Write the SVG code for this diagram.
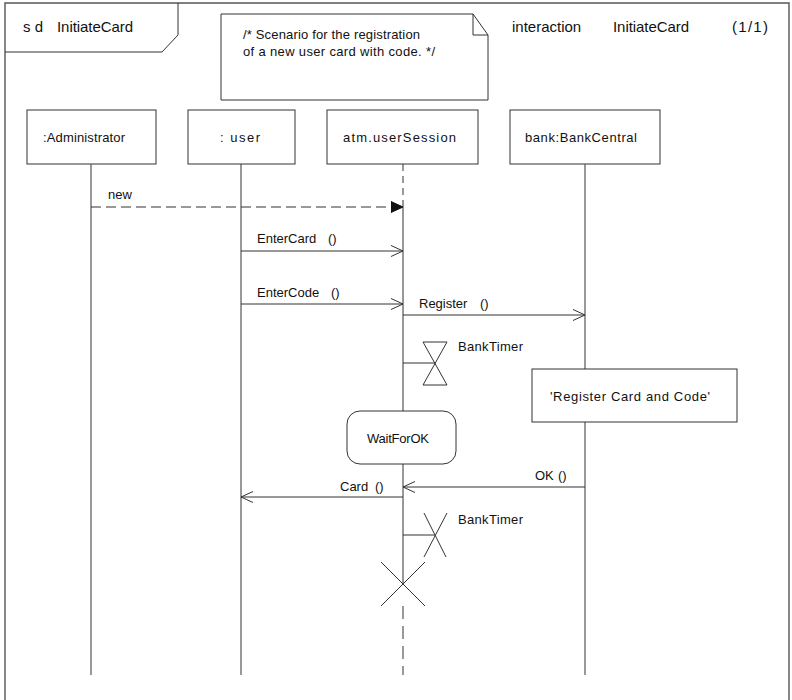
<svg xmlns="http://www.w3.org/2000/svg" width="792" height="700" viewBox="0 0 792 700">
  <style>
    text { font-family: "Liberation Sans", Arial, sans-serif; fill: #111; }
    .t13 { font-size: 13px; }
    .t15 { font-size: 15px; }
    .box { fill: #fff; stroke: #333; stroke-width: 1; }
    .line { fill: none; stroke: #333; stroke-width: 1; }
    .life { fill: none; stroke: #555; stroke-width: 1.2; }
    .dash { fill: none; stroke: #333; stroke-width: 1; stroke-dasharray: 10 5; }
    .frame { fill: none; stroke: #555; stroke-width: 1.4; }
  </style>
  <defs>
    <marker id="open" markerWidth="14" markerHeight="12" refX="12" refY="6" orient="auto" markerUnits="userSpaceOnUse">
      <path d="M0,0.5 L12,6 L0,11.5" fill="none" stroke="#333" stroke-width="1"/>
    </marker>
    <marker id="filled" markerWidth="14" markerHeight="12" refX="12" refY="6" orient="auto" markerUnits="userSpaceOnUse">
      <path d="M0,0.5 L12,6 L0,11.5 Z" fill="#111" stroke="#111" stroke-width="1"/>
    </marker>
  </defs>

  <rect width="792" height="700" fill="#fff"/>

  <!-- interaction frame -->
  <g id="frame">
    <path class="frame" d="M5,702 V3 H789 V702"/>
    <path class="line" d="M5,52 H162 L178,35 V3"/>
    <text class="t15" x="23" y="32">s d</text>
    <text class="t15" x="57" y="32" textLength="76">InitiateCard</text>
    <text class="t15" x="512" y="32">interaction</text>
    <text class="t15" x="613" y="32" textLength="76">InitiateCard</text>
    <text class="t15" x="732" y="32" textLength="36">(1/1)</text>
  </g>

  <!-- comment note -->
  <g id="note">
    <path class="box" d="M221,14 H473 L488,35 V100 H221 Z"/>
    <path class="line" d="M473,14 V35 H488"/>
    <text class="t13" x="243" y="39" textLength="177">/* Scenario for the registration</text>
    <text class="t13" x="243" y="56" textLength="192">of a new user card with code.  */</text>
  </g>

  <!-- lifelines -->
  <g id="administrator">
    <rect class="box" x="27" y="110" width="129" height="54"/>
    <text class="t13" x="43" y="142" textLength="82">:Administrator</text>
    <line class="life" x1="91" y1="164" x2="91" y2="675"/>
  </g>
  <g id="user">
    <rect class="box" x="188" y="110" width="107" height="54"/>
    <text class="t13" x="220" y="142" textLength="40">: user</text>
    <line class="line" x1="241" y1="164" x2="241" y2="675"/>
  </g>
  <g id="userSession">
    <rect class="box" x="327" y="110" width="151" height="54"/>
    <text class="t13" x="343" y="142" textLength="113">atm.userSession</text>
    <line class="dash" x1="403" y1="164" x2="403" y2="207" style="stroke-dasharray:7 5"/>
    <line class="line" x1="403" y1="207" x2="403" y2="411"/>
    <line class="line" x1="403" y1="464" x2="403" y2="584"/>
    <line class="dash" x1="403" y1="606" x2="403" y2="675" style="stroke-dasharray:13 7"/>
  </g>
  <g id="bankCentral">
    <rect class="box" x="510" y="110" width="150" height="54"/>
    <text class="t13" x="525" y="142" textLength="112">bank:BankCentral</text>
    <line class="life" x1="585" y1="164" x2="585" y2="369"/>
    <line class="life" x1="585" y1="422" x2="585" y2="675"/>
  </g>

  <!-- action on bank lifeline -->
  <g id="registerAction">
    <rect class="box" x="532" y="369" width="205" height="53"/>
    <text class="t13" x="550" y="401" textLength="160">'Register Card and Code'</text>
  </g>

  <!-- state invariant -->
  <g id="waitForOK">
    <rect class="box" x="347" y="411" width="109" height="53" rx="13" ry="13"/>
    <text class="t13" x="367" y="443" textLength="62">WaitForOK</text>
  </g>

  <!-- timers -->
  <g id="bankTimerStart">
    <line class="line" x1="403" y1="363" x2="435" y2="363"/>
    <path class="line" d="M423,342 H447 L423,385 H447 Z"/>
    <text class="t13" x="458" y="351" textLength="65">BankTimer</text>
  </g>
  <g id="bankTimerStop">
    <line class="line" x1="403" y1="535" x2="435" y2="535"/>
    <line class="line" x1="424" y1="513" x2="446" y2="557"/>
    <line class="line" x1="447" y1="513" x2="424" y2="557"/>
    <text class="t13" x="458" y="524" textLength="65">BankTimer</text>
  </g>

  <!-- destruction of the session -->
  <g id="destroy">
    <line class="line" x1="381" y1="562" x2="425" y2="606"/>
    <line class="line" x1="425" y1="562" x2="381" y2="606"/>
  </g>

  <!-- messages -->
  <g id="connectors">
    <line class="dash" x1="91" y1="207" x2="403" y2="207" marker-end="url(#filled)"/>
    <text class="t13" x="108" y="199">new</text>

    <line class="line" x1="241" y1="251" x2="403" y2="251" marker-end="url(#open)"/>
    <text class="t13" x="257" y="243">EnterCard</text>
    <text class="t13" x="328" y="243">()</text>

    <line class="line" x1="241" y1="304" x2="403" y2="304" marker-end="url(#open)"/>
    <text class="t13" x="257" y="297">EnterCode</text>
    <text class="t13" x="331" y="297">()</text>

    <line class="line" x1="403" y1="315" x2="585" y2="315" marker-end="url(#open)"/>
    <text class="t13" x="419" y="308">Register</text>
    <text class="t13" x="480" y="308">()</text>

    <line class="line" x1="585" y1="487" x2="403" y2="487" marker-end="url(#open)"/>
    <text class="t13" x="535" y="480">OK</text>
    <text class="t13" x="558" y="480">()</text>

    <line class="line" x1="403" y1="497" x2="241" y2="497" marker-end="url(#open)"/>
    <text class="t13" x="340" y="491">Card</text>
    <text class="t13" x="375" y="491">()</text>
  </g>
</svg>
